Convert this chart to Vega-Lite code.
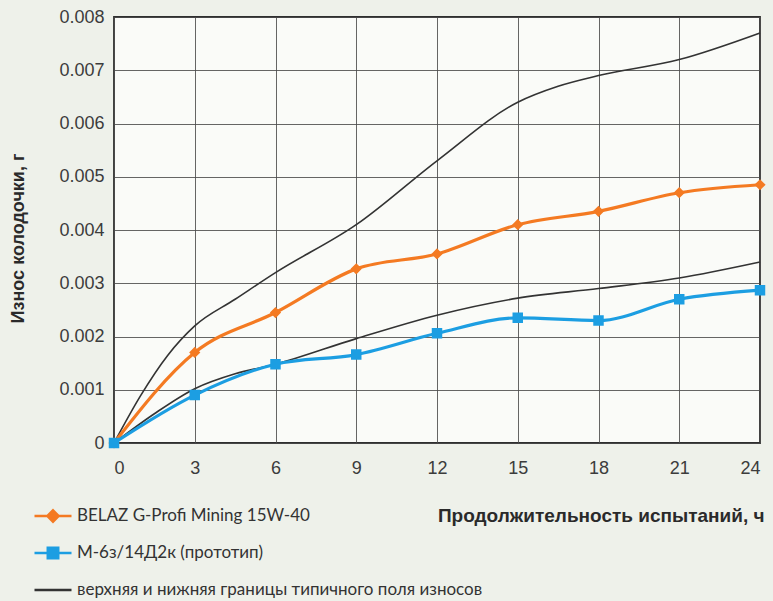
{
  "$schema": "https://vega.github.io/schema/vega-lite/v6.json",
  "width": 646,
  "height": 426,
  "autosize": {"type": "none"},
  "padding": {"left": 114, "top": 17, "right": 13, "bottom": 158},
  "background": "#eef1ea",
  "config": {
    "view": {"stroke": "#2f2f2f", "strokeWidth": 1.8, "fill": "#fafbf8"},
    "font": "Liberation Sans",
    "axis": {
      "grid": true,
      "gridColor": "#4a4a4a",
      "gridWidth": 1,
      "gridOpacity": 0.85,
      "ticks": false,
      "domain": false,
      "labelFont": "Liberation Sans",
      "labelFontSize": 18,
      "labelColor": "#3c3c3c",
      "titleFont": "Liberation Sans",
      "titleFontWeight": "bold",
      "titleColor": "#2a2a2a"
    },
    "legend": {
      "symbolStrokeWidth": 2.6,
      "symbolOpacity": 1
    }
  },
  "datasets": {
    "wear": [
      {"series": "BELAZ G-Profi Mining 15W-40", "curve": "belaz", "h": 0, "v": 0},
      {"series": "BELAZ G-Profi Mining 15W-40", "curve": "belaz", "h": 3, "v": 0.0017},
      {"series": "BELAZ G-Profi Mining 15W-40", "curve": "belaz", "h": 6, "v": 0.00245},
      {"series": "BELAZ G-Profi Mining 15W-40", "curve": "belaz", "h": 9, "v": 0.00327},
      {"series": "BELAZ G-Profi Mining 15W-40", "curve": "belaz", "h": 12, "v": 0.00355},
      {"series": "BELAZ G-Profi Mining 15W-40", "curve": "belaz", "h": 15, "v": 0.0041},
      {"series": "BELAZ G-Profi Mining 15W-40", "curve": "belaz", "h": 18, "v": 0.00435},
      {"series": "BELAZ G-Profi Mining 15W-40", "curve": "belaz", "h": 21, "v": 0.0047},
      {"series": "BELAZ G-Profi Mining 15W-40", "curve": "belaz", "h": 24, "v": 0.00485},
      {"series": "М-6з/14Д2к  (прототип)", "curve": "proto", "h": 0, "v": 0},
      {"series": "М-6з/14Д2к  (прототип)", "curve": "proto", "h": 3, "v": 0.0009},
      {"series": "М-6з/14Д2к  (прототип)", "curve": "proto", "h": 6, "v": 0.00148},
      {"series": "М-6з/14Д2к  (прототип)", "curve": "proto", "h": 9, "v": 0.00166},
      {"series": "М-6з/14Д2к  (прототип)", "curve": "proto", "h": 12, "v": 0.00206},
      {"series": "М-6з/14Д2к  (прототип)", "curve": "proto", "h": 15, "v": 0.00235},
      {"series": "М-6з/14Д2к  (прототип)", "curve": "proto", "h": 18, "v": 0.0023},
      {"series": "М-6з/14Д2к  (прототип)", "curve": "proto", "h": 21, "v": 0.0027},
      {"series": "М-6з/14Д2к  (прототип)", "curve": "proto", "h": 24, "v": 0.00287}
    ],
    "bounds": [
      {"series": "верхняя и нижняя границы типичного поля износов", "curve": "upper", "h": 0, "v": 0},
      {"series": "верхняя и нижняя границы типичного поля износов", "curve": "upper", "h": 1, "v": 0.0009},
      {"series": "верхняя и нижняя границы типичного поля износов", "curve": "upper", "h": 2, "v": 0.00165},
      {"series": "верхняя и нижняя границы типичного поля износов", "curve": "upper", "h": 3, "v": 0.0022},
      {"series": "верхняя и нижняя границы типичного поля износов", "curve": "upper", "h": 4.5, "v": 0.0027},
      {"series": "верхняя и нижняя границы типичного поля износов", "curve": "upper", "h": 6, "v": 0.0032},
      {"series": "верхняя и нижняя границы типичного поля износов", "curve": "upper", "h": 9, "v": 0.0041},
      {"series": "верхняя и нижняя границы типичного поля износов", "curve": "upper", "h": 12, "v": 0.0053},
      {"series": "верхняя и нижняя границы типичного поля износов", "curve": "upper", "h": 15, "v": 0.0064},
      {"series": "верхняя и нижняя границы типичного поля износов", "curve": "upper", "h": 16.5, "v": 0.0067},
      {"series": "верхняя и нижняя границы типичного поля износов", "curve": "upper", "h": 18, "v": 0.0069},
      {"series": "верхняя и нижняя границы типичного поля износов", "curve": "upper", "h": 21, "v": 0.0072},
      {"series": "верхняя и нижняя границы типичного поля износов", "curve": "upper", "h": 24, "v": 0.0077},
      {"series": "верхняя и нижняя границы типичного поля износов", "curve": "lower", "h": 0, "v": 0},
      {"series": "верхняя и нижняя границы типичного поля износов", "curve": "lower", "h": 1.5, "v": 0.00055},
      {"series": "верхняя и нижняя границы типичного поля износов", "curve": "lower", "h": 3, "v": 0.00102},
      {"series": "верхняя и нижняя границы типичного поля износов", "curve": "lower", "h": 4.5, "v": 0.0013},
      {"series": "верхняя и нижняя границы типичного поля износов", "curve": "lower", "h": 6, "v": 0.00148},
      {"series": "верхняя и нижняя границы типичного поля износов", "curve": "lower", "h": 9, "v": 0.00196},
      {"series": "верхняя и нижняя границы типичного поля износов", "curve": "lower", "h": 12, "v": 0.0024},
      {"series": "верхняя и нижняя границы типичного поля износов", "curve": "lower", "h": 15, "v": 0.00272},
      {"series": "верхняя и нижняя границы типичного поля износов", "curve": "lower", "h": 18, "v": 0.0029},
      {"series": "верхняя и нижняя границы типичного поля износов", "curve": "lower", "h": 21, "v": 0.0031},
      {"series": "верхняя и нижняя границы типичного поля износов", "curve": "lower", "h": 24, "v": 0.0034}
    ]
  },
  "encoding": {
    "x": {
      "field": "h",
      "type": "quantitative",
      "scale": {"domain": [0, 24], "nice": false, "zero": false},
      "axis": {
        "values": [0, 3, 6, 9, 12, 15, 18, 21, 24],
        "labelPadding": 16,
        "title": "Продолжительность испытаний, ч",
        "titleFontSize": 19,
        "titleAnchor": "end",
        "titleAlign": "right",
        "titleX": 650,
        "titleY": 72,
        "titleBaseline": "middle"
      }
    },
    "y": {
      "field": "v",
      "type": "quantitative",
      "scale": {"domain": [0, 0.008], "nice": false},
      "axis": {
        "values": [0, 0.001, 0.002, 0.003, 0.004, 0.005, 0.006, 0.007, 0.008],
        "labelExpr": "datum.value == 0 ? '0' : format(datum.value, '.3f')",
        "labelPadding": 10,
        "title": "Износ колодочки, г",
        "titleFontSize": 18,
        "titleAngle": -90,
        "titleX": -96,
        "titleY": 221,
        "titleAlign": "center",
        "titleBaseline": "middle"
      }
    }
  },
  "layer": [
    {
      "data": {"name": "bounds"},
      "mark": {"type": "line", "interpolate": "monotone", "strokeWidth": 1.6, "color": "#333333"},
      "encoding": {
        "detail": {"field": "curve"}
      }
    },
    {
      "data": {"name": "wear"},
      "mark": {"type": "line", "interpolate": "monotone", "strokeWidth": 3.2},
      "encoding": {
        "detail": {"field": "curve"},
        "color": {
          "field": "series",
          "type": "nominal",
          "scale": {
            "domain": ["BELAZ G-Profi Mining 15W-40", "М-6з/14Д2к  (прототип)"],
            "range": ["#f47a22", "#1c9ee2"]
          },
          "legend": null
        }
      }
    },
    {
      "data": {"name": "wear"},
      "mark": {"type": "point", "filled": true, "opacity": 1, "size": 1400, "strokeWidth": 0},
      "encoding": {
        "fill": {
          "field": "series",
          "type": "nominal",
          "scale": {
            "domain": ["BELAZ G-Profi Mining 15W-40", "М-6з/14Д2к  (прототип)", "верхняя и нижняя границы типичного поля износов"],
            "range": ["#f47a22", "#1c9ee2", "#333333"]
          },
          "legend": {
            "title": null,
            "orient": "none",
            "legendX": -81,
            "legendY": 479,
            "direction": "vertical",
            "symbolSize": 1369,
            "symbolStrokeWidth": 2.6,
            "rowPadding": 6,
            "labelOffset": 4,
            "labelFont": "Lato",
            "labelFontSize": 17,
            "labelColor": "#333333",
            "labelLimit": 500
          }
        },
        "stroke": {
          "field": "series",
          "type": "nominal",
          "scale": {
            "domain": ["BELAZ G-Profi Mining 15W-40", "М-6з/14Д2к  (прототип)", "верхняя и нижняя границы типичного поля износов"],
            "range": ["#f47a22", "#1c9ee2", "#333333"]
          }
        },
        "shape": {
          "field": "series",
          "type": "nominal",
          "scale": {
            "domain": ["BELAZ G-Profi Mining 15W-40", "М-6з/14Д2к  (прототип)", "верхняя и нижняя границы типичного поля износов"],
            "range": [
              "M-1,0H1M0,-0.3L0.3,0L0,0.3L-0.3,0Z",
              "M-1,0H1M-0.28,-0.28H0.28V0.28H-0.28Z",
              "M-1,0H1"
            ]
          }
        }
      }
    }
  ]
}
